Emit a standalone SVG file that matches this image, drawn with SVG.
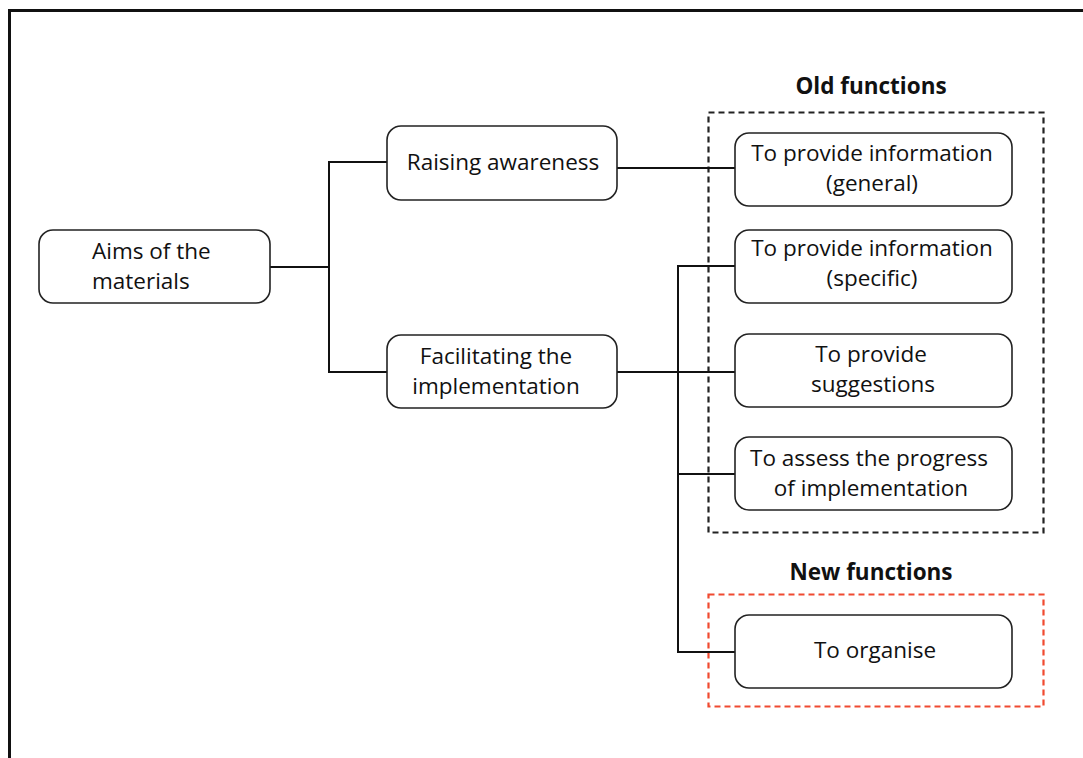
<svg xmlns="http://www.w3.org/2000/svg" width="1083" height="758" viewBox="0 0 1083 758">
<style>
.box{fill:#fff;stroke:#222;stroke-width:1.6}
.t{font-family:"Open Sans","Noto Sans",sans-serif;font-size:22.5px;fill:#111}
.c{text-anchor:middle}
.h{font-family:"Open Sans","Noto Sans",sans-serif;font-size:22.5px;font-weight:bold;fill:#111;text-anchor:middle}
.ln{fill:none;stroke:#111;stroke-width:2}
</style>
<rect x="0" y="0" width="1083" height="758" fill="#fff"/>
<rect x="9.5" y="10.5" width="1100" height="800" fill="none" stroke="#111" stroke-width="3"/>
<g id="groups">
<text class="h" x="871" y="94">Old functions</text>
<rect x="708.5" y="112.5" width="335" height="420" fill="none" stroke="#222" stroke-width="2.2" stroke-dasharray="6,4"/>
<text class="h" x="871" y="580">New functions</text>
<rect x="708.5" y="594.5" width="335" height="112" fill="none" stroke="#f04a30" stroke-width="2.2" stroke-dasharray="6,4"/>
</g>
<g id="connectors">
<polyline class="ln" points="270,267 329,267"/>
<polyline class="ln" points="387,162 329,162 329,372 387,372"/>
<polyline class="ln" points="617,168 735,168"/>
<polyline class="ln" points="617,372 735,372"/>
<polyline class="ln" points="735,266 678,266 678,652 735,652"/>
<polyline class="ln" points="678,474 735,474"/>
</g>
<g id="aims">
<rect class="box" x="39" y="230" width="231" height="73" rx="14"/>
<text class="t" x="92" y="259">Aims of the</text>
<text class="t" x="92" y="289">materials</text>
</g>
<g id="raising">
<rect class="box" x="387" y="126" width="230" height="74" rx="14"/>
<text class="t c" x="503" y="170">Raising awareness</text>
</g>
<g id="facilitating">
<rect class="box" x="387" y="335" width="230" height="73" rx="14"/>
<text class="t c" x="496" y="364">Facilitating the</text>
<text class="t c" x="496" y="394">implementation</text>
</g>
<g id="info-general">
<rect class="box" x="735" y="133" width="277" height="73" rx="14"/>
<text class="t c" x="872" y="161">To provide information</text>
<text class="t c" x="872" y="191">(general)</text>
</g>
<g id="info-specific">
<rect class="box" x="735" y="230" width="277" height="73" rx="14"/>
<text class="t c" x="872" y="256">To provide information</text>
<text class="t c" x="872" y="286">(specific)</text>
</g>
<g id="suggestions">
<rect class="box" x="735" y="334" width="277" height="73" rx="14"/>
<text class="t c" x="871" y="362">To provide</text>
<text class="t c" x="873" y="392">suggestions</text>
</g>
<g id="assess">
<rect class="box" x="735" y="437" width="277" height="73" rx="14"/>
<text class="t c" x="869" y="466">To assess the progress</text>
<text class="t c" x="871" y="496">of implementation</text>
</g>
<g id="organise">
<rect class="box" x="735" y="615" width="277" height="73" rx="14"/>
<text class="t c" x="875" y="658">To organise</text>
</g>
</svg>
